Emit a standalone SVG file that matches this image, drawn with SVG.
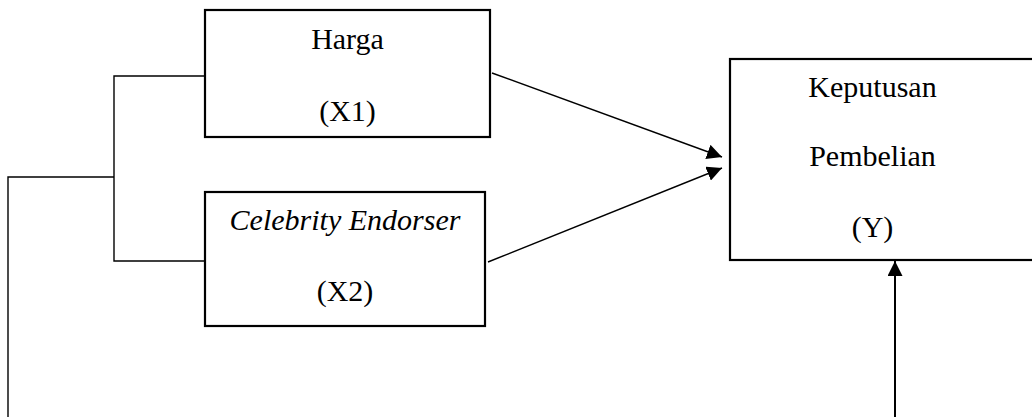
<svg xmlns="http://www.w3.org/2000/svg" width="1032" height="417" viewBox="0 0 1032 417">
  <style>
    .box { fill: #ffffff; stroke: #000000; stroke-width: 2.2; }
    .label { font-family: "Liberation Serif", "Times New Roman", serif; font-size: 30px; fill: #000000; text-anchor: middle; }
    .it { font-style: italic; }
    .line { fill: none; stroke: #000000; stroke-width: 1.4; }
    .arrow { fill: none; stroke: #000000; stroke-width: 1.4; marker-end: url(#head); }
    .thick { stroke-width: 2; }
  </style>
  <defs>
    <marker id="head" markerUnits="userSpaceOnUse" markerWidth="15" markerHeight="15" refX="15" refY="7.5" orient="auto">
      <path d="M0,0 L15,7.5 L0,15 z" fill="#000000"/>
    </marker>
  </defs>
  <rect width="1032" height="417" fill="#ffffff"/>

  <!-- variable boxes -->
  <g id="node-harga">
    <rect class="box" x="205" y="10" width="285" height="127"/>
    <text class="label" x="347.5" y="49">Harga</text>
    <text class="label" x="347.5" y="121">(X1)</text>
  </g>
  <g id="node-celebrity">
    <rect class="box" x="205" y="192" width="280" height="134"/>
    <text class="label it" x="345" y="230">Celebrity Endorser</text>
    <text class="label" x="345" y="301">(X2)</text>
  </g>
  <g id="node-keputusan">
    <rect class="box" x="730" y="59" width="320" height="201"/>
    <text class="label" x="872.5" y="97">Keputusan</text>
    <text class="label" x="872.5" y="166">Pembelian</text>
    <text class="label" x="872.5" y="237">(Y)</text>
  </g>

  <!-- connectors -->
  <g id="connectors">
    <path class="line" d="M205,76 H114 V261 H205"/>
    <path class="line" d="M114,177 H8 V417"/>
    <line class="arrow" x1="492" y1="73" x2="722" y2="157"/>
    <line class="arrow" x1="488" y1="262" x2="722" y2="168"/>
    <line class="arrow thick" x1="895" y1="417" x2="895" y2="261"/>
  </g>
</svg>
